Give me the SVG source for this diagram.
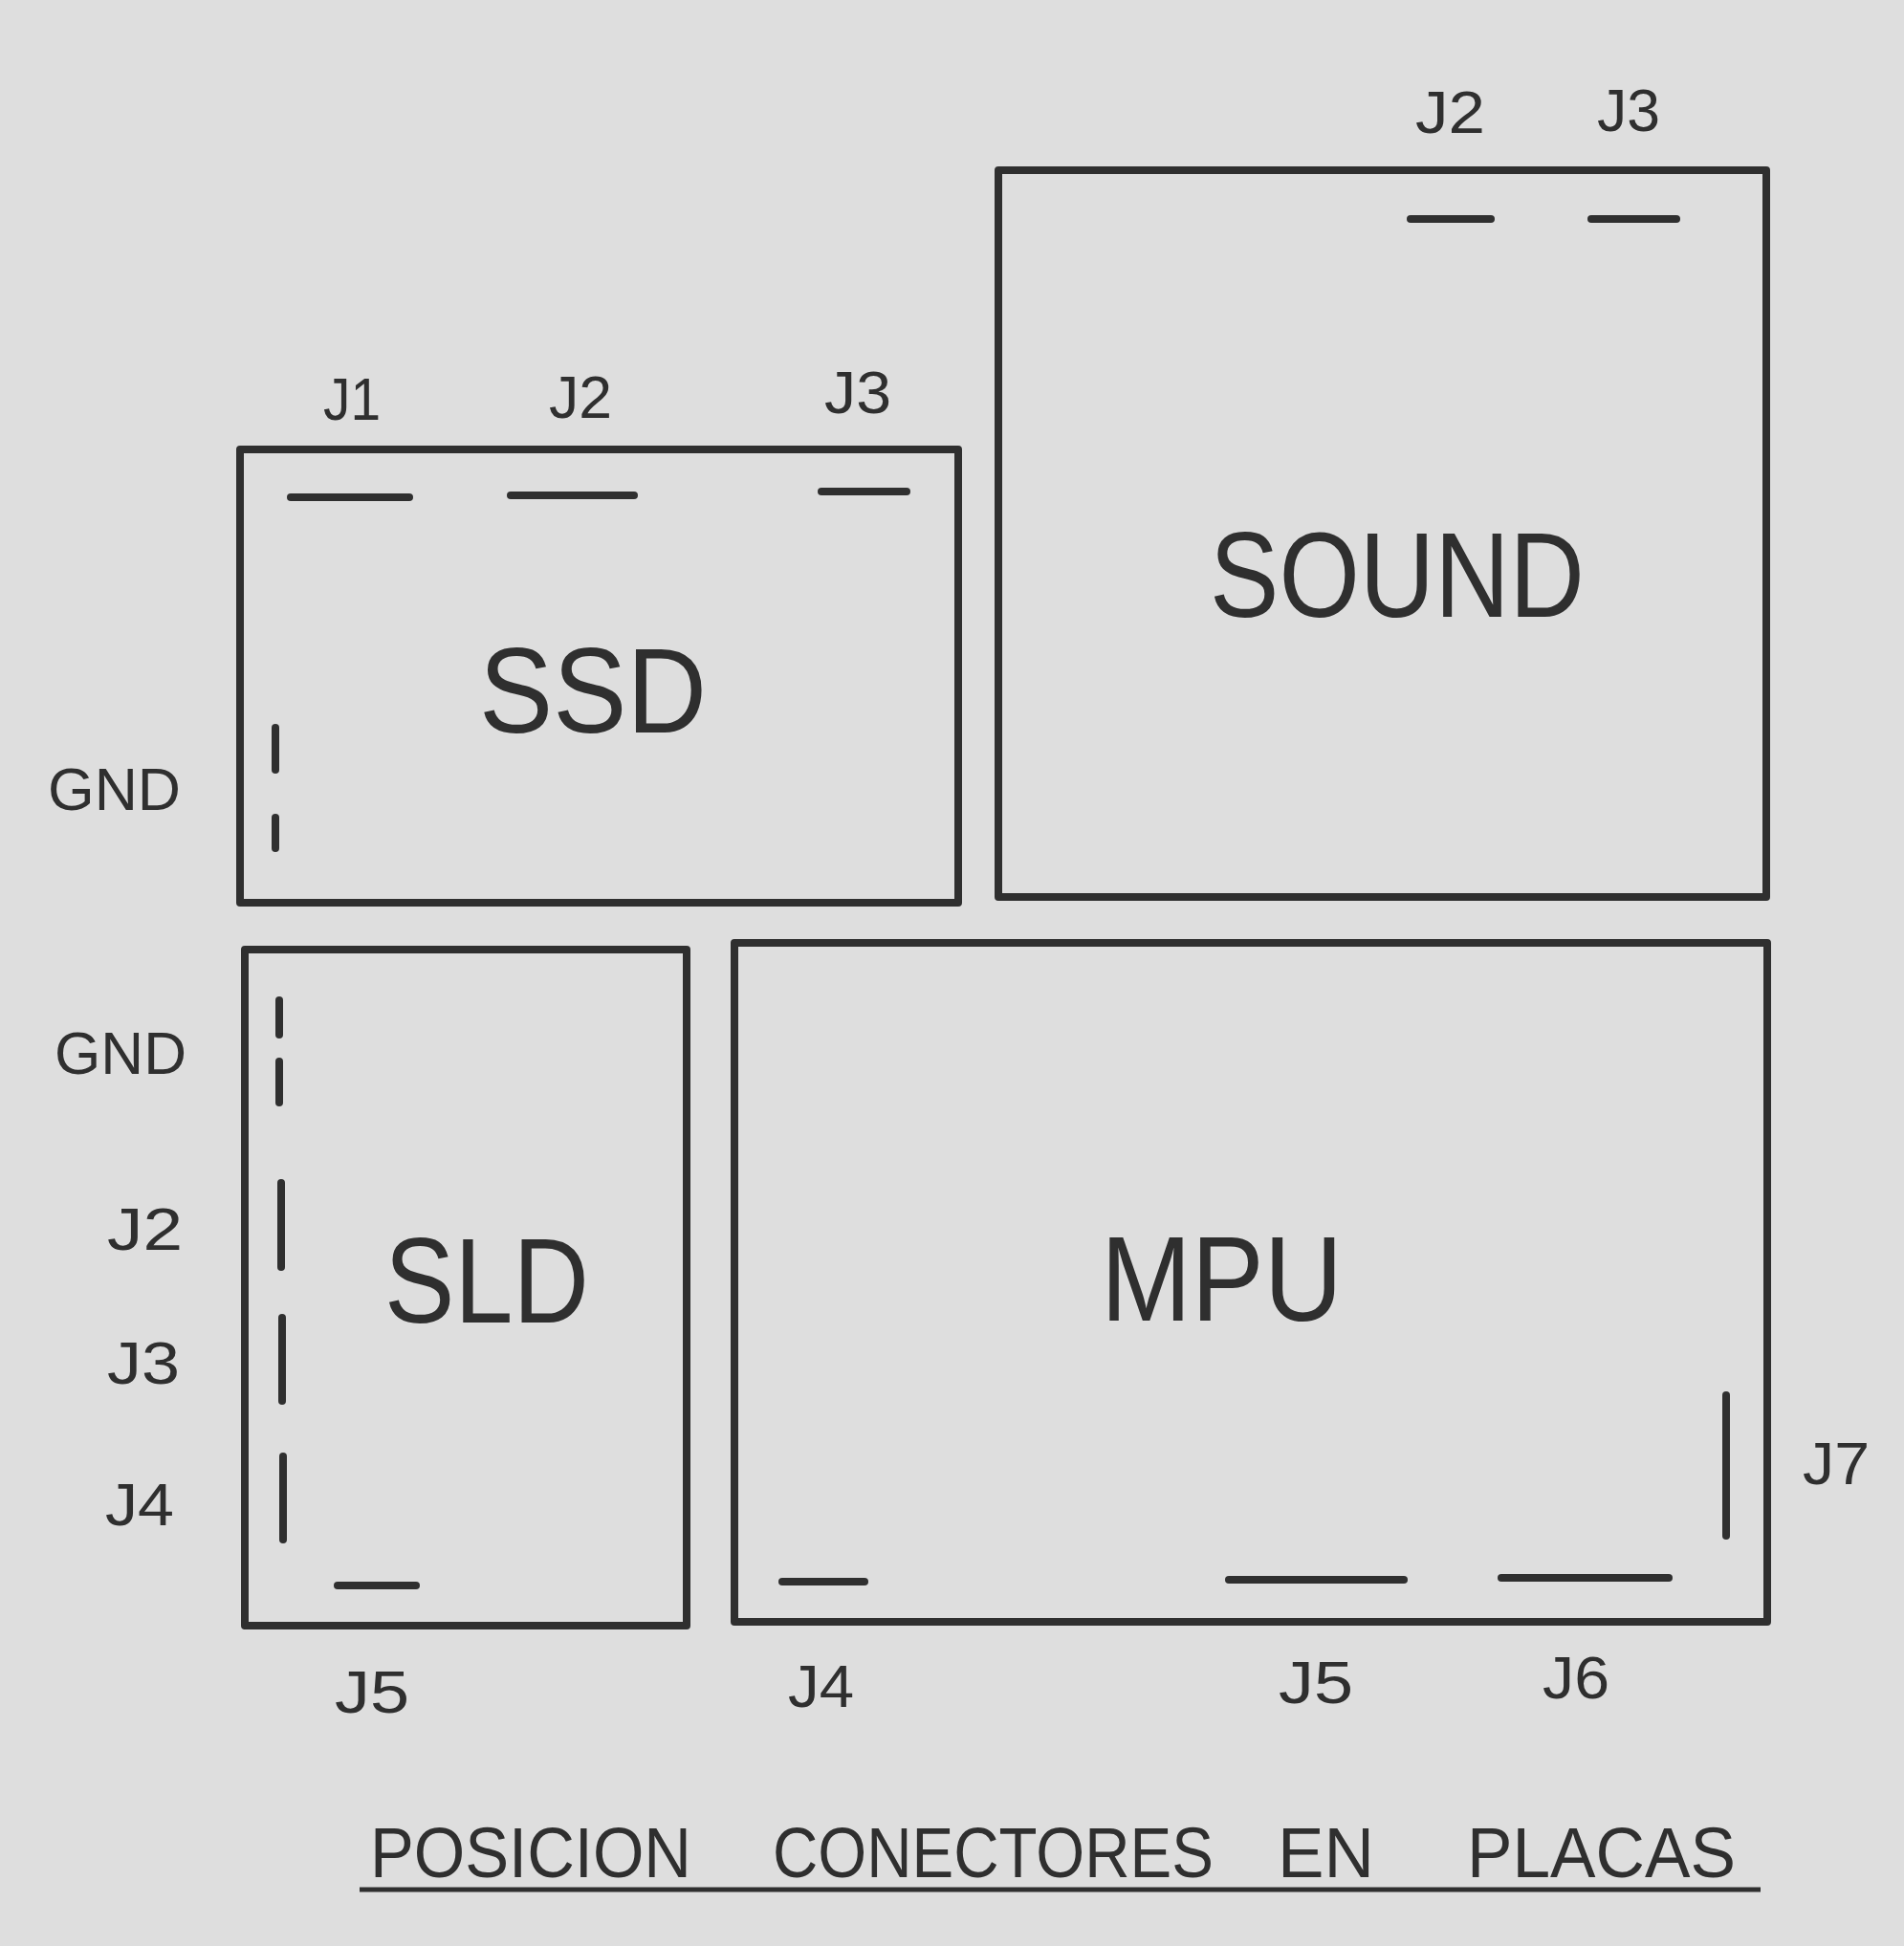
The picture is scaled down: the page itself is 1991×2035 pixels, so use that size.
<svg xmlns="http://www.w3.org/2000/svg" width="1991" height="2035" viewBox="0 0 1991 2035">
<style>
.box{fill:none;stroke:#2f2f2f;stroke-width:8;stroke-linejoin:round}
.con{stroke:#2f2f2f;stroke-width:8;stroke-linecap:round;fill:none}
.lbl{font-family:"Liberation Sans",Arial,sans-serif;font-size:63px;fill:#2f2f2f}
.big{font-family:"Liberation Sans",Arial,sans-serif;font-size:127px;fill:#2f2f2f}
.ttl{font-family:"Liberation Sans",Arial,sans-serif;font-size:74px;fill:#2f2f2f}
</style>
<rect width="1991" height="2035" fill="#dedede"/>
<g id="ssd">
<rect class="box" x="251" y="470" width="751" height="474"/>
<text class="big" x="501" y="766" textLength="238" lengthAdjust="spacingAndGlyphs">SSD</text>
<text class="lbl" x="338" y="439" textLength="60" lengthAdjust="spacingAndGlyphs">J1</text>
<text class="lbl" x="574" y="437" textLength="66" lengthAdjust="spacingAndGlyphs">J2</text>
<text class="lbl" x="862" y="432" textLength="70" lengthAdjust="spacingAndGlyphs">J3</text>
<text class="lbl" x="50" y="847" textLength="139" lengthAdjust="spacingAndGlyphs">GND</text>
</g>
<g id="sound">
<rect class="box" x="1044" y="178" width="803" height="760"/>
<text class="big" x="1265" y="645" textLength="392" lengthAdjust="spacingAndGlyphs">SOUND</text>
<text class="lbl" x="1480" y="139" textLength="73" lengthAdjust="spacingAndGlyphs">J2</text>
<text class="lbl" x="1670" y="137" textLength="66" lengthAdjust="spacingAndGlyphs">J3</text>
</g>
<g id="sld">
<rect class="box" x="256" y="993" width="462" height="707"/>
<text class="big" x="402" y="1383" textLength="214" lengthAdjust="spacingAndGlyphs">SLD</text>
<text class="lbl" x="57" y="1123" textLength="138" lengthAdjust="spacingAndGlyphs">GND</text>
<text class="lbl" x="112" y="1307" textLength="79" lengthAdjust="spacingAndGlyphs">J2</text>
<text class="lbl" x="112" y="1447" textLength="76" lengthAdjust="spacingAndGlyphs">J3</text>
<text class="lbl" x="110" y="1595" textLength="72" lengthAdjust="spacingAndGlyphs">J4</text>
<text class="lbl" x="350" y="1791" textLength="78" lengthAdjust="spacingAndGlyphs">J5</text>
</g>
<g id="mpu">
<rect class="box" x="768" y="986" width="1080" height="710"/>
<text class="big" x="1151" y="1381" textLength="253" lengthAdjust="spacingAndGlyphs">MPU</text>
<text class="lbl" x="824" y="1785" textLength="69" lengthAdjust="spacingAndGlyphs">J4</text>
<text class="lbl" x="1337" y="1781" textLength="78" lengthAdjust="spacingAndGlyphs">J5</text>
<text class="lbl" x="1613" y="1776" textLength="70" lengthAdjust="spacingAndGlyphs">J6</text>
<text class="lbl" x="1885" y="1552" textLength="70" lengthAdjust="spacingAndGlyphs">J7</text>
</g>
<g id="connectors">
<line class="con" x1="304" y1="520" x2="428" y2="520"/>
<line class="con" x1="534" y1="518" x2="663" y2="518"/>
<line class="con" x1="859" y1="514" x2="948" y2="514"/>
<line class="con" x1="288" y1="761" x2="288" y2="805"/>
<line class="con" x1="288" y1="855" x2="288" y2="887"/>
<line class="con" x1="1475" y1="229" x2="1559" y2="229"/>
<line class="con" x1="1664" y1="229" x2="1753" y2="229"/>
<line class="con" x1="292" y1="1046" x2="292" y2="1082"/>
<line class="con" x1="292" y1="1110" x2="292" y2="1153"/>
<line class="con" x1="294" y1="1237" x2="294" y2="1325"/>
<line class="con" x1="295" y1="1378" x2="295" y2="1465"/>
<line class="con" x1="296" y1="1523" x2="296" y2="1610"/>
<line class="con" x1="353" y1="1658" x2="435" y2="1658"/>
<line class="con" x1="818" y1="1654" x2="904" y2="1654"/>
<line class="con" x1="1285" y1="1652" x2="1468" y2="1652"/>
<line class="con" x1="1570" y1="1650" x2="1745" y2="1650"/>
<line class="con" x1="1805" y1="1459" x2="1805" y2="1606"/>
</g>
<g id="title">
<text class="ttl" x="387" y="1963" textLength="336" lengthAdjust="spacingAndGlyphs">POSICION</text>
<text class="ttl" x="808" y="1963" textLength="461" lengthAdjust="spacingAndGlyphs">CONECTORES</text>
<text class="ttl" x="1336" y="1963" textLength="101" lengthAdjust="spacingAndGlyphs">EN</text>
<text class="ttl" x="1534" y="1963" textLength="281" lengthAdjust="spacingAndGlyphs">PLACAS</text>
<line class="con" x1="376" y1="1976" x2="1841" y2="1976" style="stroke-width:5;stroke-linecap:butt"/>
</g>
</svg>
